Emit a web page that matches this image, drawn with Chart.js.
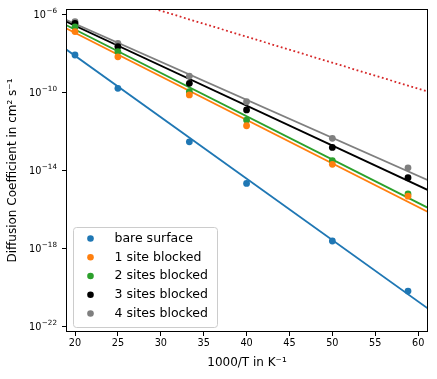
<!DOCTYPE html>
<html>
<head>
<meta charset="utf-8">
<script src="https://cdn.jsdelivr.net/npm/chart.js@4"></script>
<style>
  html, body { margin: 0; padding: 0; background: #fff; }
  #wrap { width: 437px; height: 379px; }
</style>
</head>
<body>
<div id="wrap"><canvas id="difusion" width="437" height="379"></canvas></div>
<script>
// 1000/T values
const invT = [20, 25, 33.33, 40, 50, 58.82];

// diffusion coefficients (cm2 s-1)
const bareSurface = [8.5e-9, 1.66e-10, 3.0e-13, 2.2e-15, 2.45e-18, 6.6e-21];
const oneSite = [1.35e-7, 6.9e-9, 7.6e-11, 2.0e-12, 2.1e-14, 4.9e-16];
const twoSites = [2.35e-7, 1.26e-8, 1.12e-10, 3.9e-12, 3.2e-14, 6.3e-16];
const threeSites = [3.6e-7, 2.3e-8, 3.0e-10, 1.29e-11, 1.55e-13, 4.3e-15];
const fourSites = [4.4e-7, 3.4e-8, 7.1e-10, 3.4e-11, 4.5e-13, 1.38e-14];

// fit lines, value at left and right edge of the axes
const fitX = [18.95, 61.15];
const fitBare = [1.66e-8, 8.3e-22];
const fitOne = [2.0e-7, 7.6e-17];
const fitTwo = [2.95e-7, 1.23e-16];
const fitThree = [4.4e-7, 1.0e-15];
const fitFour = [5.4e-7, 3.2e-15];
const fitRed = [4.7e-5, 1.12e-10];

const labels = ['bare surface', '1 site blocked', '2 sites blocked', '3 sites blocked', '4 sites blocked'];
const colores = ['#1f77b4', '#ff7f0e', '#2ca02c', '#000000', '#7f7f7f'];

const xTicks = [20, 25, 30, 35, 40, 45, 50, 55, 60];
const yTicks = [1e-22, 1e-18, 1e-14, 1e-10, 1e-6];
const yTickExp = ['\u221222', '\u221218', '\u221214', '\u221210', '\u22126'];

const fuente = 'DejaVu Sans';

function puntos(xs, ys) {
    return xs.map((x, i) => ({ x: x, y: ys[i] }));
}

const series = [bareSurface, oneSite, twoSites, threeSites, fourSites];
const fits = [fitBare, fitOne, fitTwo, fitThree, fitFour];

const datasets = [];

//puntos
series.forEach((s, i) => {
    datasets.push({
        type: 'scatter',
        label: labels[i],
        data: puntos(invT, s),
        backgroundColor: colores[i],
        borderColor: colores[i],
        pointRadius: 3.4,
        pointBorderWidth: 0,
        order: 0
    });
});

//lineas ajuste
fits.forEach((f, i) => {
    datasets.push({
        type: 'line',
        label: 'fit ' + labels[i],
        data: puntos(fitX, f),
        borderColor: colores[i],
        borderWidth: 1.8,
        pointRadius: 0,
        fill: false,
        order: 1
    });
});

datasets.push({
    type: 'line',
    label: 'ref',
    data: puntos(fitX, fitRed),
    borderColor: '#d62728',
    borderWidth: 1.8,
    borderDash: [1.8, 2.6],
    pointRadius: 0,
    fill: false,
    order: 1
});

// marco, etiquetas 10^n y leyenda
const marco = {
    id: 'marco',
    afterDatasetsDraw(chart) {
        const a = chart.chartArea;
        const ctx = chart.ctx;
        ctx.save();
        ctx.strokeStyle = '#000';
        ctx.lineWidth = 1;
        ctx.strokeRect(Math.round(a.left) + 0.5, Math.round(a.top) + 0.5,
            Math.round(a.right - a.left) - 1, Math.round(a.bottom - a.top) - 1);

        //etiquetas eje y
        const escalaY = chart.scales.y;
        const derecha = a.left - 9;
        ctx.fillStyle = '#000';
        ctx.textAlign = 'left';
        ctx.textBaseline = 'alphabetic';
        yTicks.forEach((v, i) => {
            const py = escalaY.getPixelForValue(v);
            ctx.font = '7.2px "' + fuente + '"';
            const wExp = ctx.measureText(yTickExp[i]).width;
            ctx.font = '9.7px "' + fuente + '"';
            const wBase = ctx.measureText('10').width;
            const x0 = derecha - wExp - wBase - 0.5;
            ctx.fillText('10', x0, py + 3.6);
            ctx.font = '7.2px "' + fuente + '"';
            ctx.fillText(yTickExp[i], x0 + wBase + 0.5, py - 1.8);
        });

        // leyenda
        const bx = a.left + 7, by = a.bottom - 105, bw = 144, bh = 100;
        ctx.fillStyle = 'rgba(255,255,255,0.8)';
        ctx.strokeStyle = '#cccccc';
        ctx.beginPath();
        ctx.roundRect(bx + 0.5, by + 0.5, bw, bh, 3);
        ctx.fill();
        ctx.stroke();

        ctx.font = '12.5px "' + fuente + '"';
        ctx.textBaseline = 'middle';
        labels.forEach((t, i) => {
            const cy = by + 11.5 + i * 18.75;
            ctx.fillStyle = colores[i];
            ctx.beginPath();
            ctx.arc(bx + 17.5, cy, 3.3, 0, Math.PI * 2);
            ctx.fill();
            ctx.fillStyle = '#000';
            ctx.fillText(t, bx + 41.5, cy);
        });
        ctx.restore();
    }
};

const ctx = document.getElementById('difusion').getContext('2d');

const config = {
    data: { datasets: datasets },
    options: {
        responsive: false,
        animation: false,
        layout: { padding: { top: 9, right: 9, left: 0, bottom: 0 } },
        plugins: {
            legend: { display: false },
            tooltip: { enabled: false }
        },
        scales: {
            x: {
                type: 'linear',
                min: 18.95,
                max: 61.15,
                afterBuildTicks: function (scale) {
                    scale.ticks = xTicks.map(v => ({ value: v }));
                },
                afterFit: function (scale) {
                    scale.height = 47;
                },
                ticks: {
                    color: '#000',
                    font: { family: fuente, size: 9.7 },
                    padding: 2,
                    maxRotation: 0,
                    callback: function (value) {
                        return value;
                    }
                },
                grid: { drawOnChartArea: false, drawTicks: true, tickLength: 4, color: '#000' },
                border: { display: false },
                title: {
                    display: true,
                    text: '1000/T in K\u207B\u00B9',
                    color: '#000',
                    font: { family: fuente, size: 12 },
                    padding: { top: 0, bottom: 9 }
                }
            },
            y: {
                type: 'logarithmic',
                min: Math.pow(10, -22.28),
                max: Math.pow(10, -5.71),
                afterBuildTicks: function (scale) {
                    scale.ticks = yTicks.map(v => ({ value: v }));
                },
                afterFit: function (scale) {
                    scale.width = 66;
                },
                ticks: {
                    color: '#000',
                    font: { family: fuente, size: 9.7 },
                    padding: 3,
                    autoSkip: false,
                    // las etiquetas 10^n se dibujan en el plugin marco
                    callback: function () {
                        return '';
                    }
                },
                grid: { drawOnChartArea: false, drawTicks: true, tickLength: 4, color: '#000' },
                border: { display: false },
                title: {
                    display: true,
                    text: 'Diffusion Coefficient in cm\u00B2 s\u207B\u00B9',
                    color: '#000',
                    font: { family: fuente, size: 12 },
                    padding: { top: 6, bottom: 0 }
                }
            }
        }
    },
    plugins: [marco]
};

const myChart = new Chart(ctx, config);
</script>
</body>
</html>
